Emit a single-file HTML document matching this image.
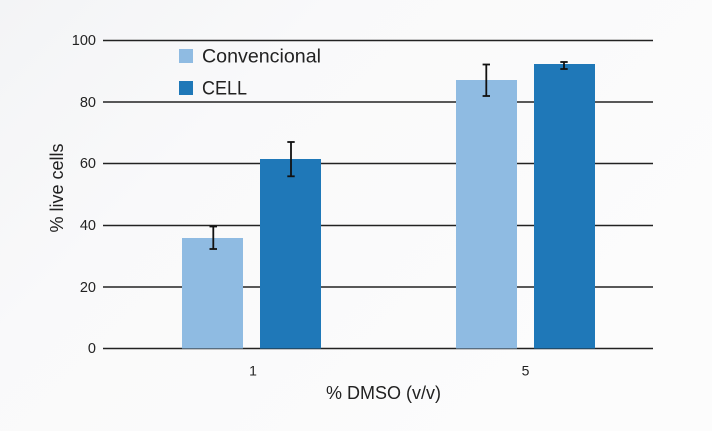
<!DOCTYPE html>
<html><head><meta charset="utf-8"><style>
html,body{margin:0;padding:0;}
body{width:712px;height:431px;overflow:hidden;background:#f9f9fa;}
svg{display:block;}
text{font-family:"Liberation Sans",sans-serif;fill:#222;}
</style></head><body>
<svg width="712" height="431" viewBox="0 0 712 431" xmlns="http://www.w3.org/2000/svg">
<defs>
<linearGradient id="bg" x1="0" y1="0" x2="1" y2="0.6">
<stop offset="0" stop-color="#f3f4f6"/>
<stop offset="0.35" stop-color="#f9f9fa"/>
<stop offset="1" stop-color="#fcfcfc"/>
</linearGradient>
</defs>
<rect width="712" height="431" fill="url(#bg)"/>
<g stroke="#222" stroke-width="1.6">
<line x1="103" y1="40.5" x2="653" y2="40.5"/>
<line x1="103" y1="102" x2="653" y2="102"/>
<line x1="103" y1="163.5" x2="653" y2="163.5"/>
<line x1="103" y1="225.5" x2="653" y2="225.5"/>
<line x1="103" y1="287" x2="653" y2="287"/>
<line x1="103" y1="348.5" x2="653" y2="348.5"/>
</g>
<g font-size="14.5" text-anchor="end">
<text x="96" y="45">100</text>
<text x="96" y="107">80</text>
<text x="96" y="168">60</text>
<text x="96" y="230">40</text>
<text x="96" y="292">20</text>
<text x="96" y="353">0</text>
</g>
<rect x="182" y="238" width="61" height="110.5" fill="#8fbbe2"/>
<rect x="260" y="159" width="61" height="189.5" fill="#1f78b8"/>
<rect x="456" y="80" width="61" height="268.5" fill="#8fbbe2"/>
<rect x="534" y="64" width="61" height="284.5" fill="#1f78b8"/>
<g stroke="#111" stroke-width="1.8">
<line x1="213.3" y1="226.5" x2="213.3" y2="249"/><line x1="209.5" y1="226.5" x2="217" y2="226.5"/><line x1="209.5" y1="249" x2="217" y2="249"/>
<line x1="291" y1="142" x2="291" y2="176.3"/><line x1="287.3" y1="142" x2="294.7" y2="142"/><line x1="287.3" y1="176.3" x2="294.7" y2="176.3"/>
<line x1="486.3" y1="64.5" x2="486.3" y2="96"/><line x1="482.6" y1="64.5" x2="490" y2="64.5"/><line x1="482.6" y1="96" x2="490" y2="96"/>
<line x1="564" y1="62" x2="564" y2="69"/><line x1="560.3" y1="62" x2="567.7" y2="62"/><line x1="560.3" y1="69" x2="567.7" y2="69"/>
</g>
<rect x="179" y="49" width="14" height="14" fill="#8fbbe2"/>
<rect x="179" y="81" width="14" height="14" fill="#1f78b8"/>
<text x="202" y="62.5" font-size="19" textLength="119" lengthAdjust="spacingAndGlyphs">Convencional</text>
<text x="202" y="94.5" font-size="19" textLength="45" lengthAdjust="spacingAndGlyphs">CELL</text>
<g font-size="14" text-anchor="middle">
<text x="253" y="375.5">1</text>
<text x="525.5" y="375.5">5</text>
</g>
<text x="383.5" y="399" font-size="18" text-anchor="middle">% DMSO (v/v)</text>
<text transform="translate(63,188) rotate(-90)" font-size="18" text-anchor="middle">% live cells</text>
</svg>
</body></html>
